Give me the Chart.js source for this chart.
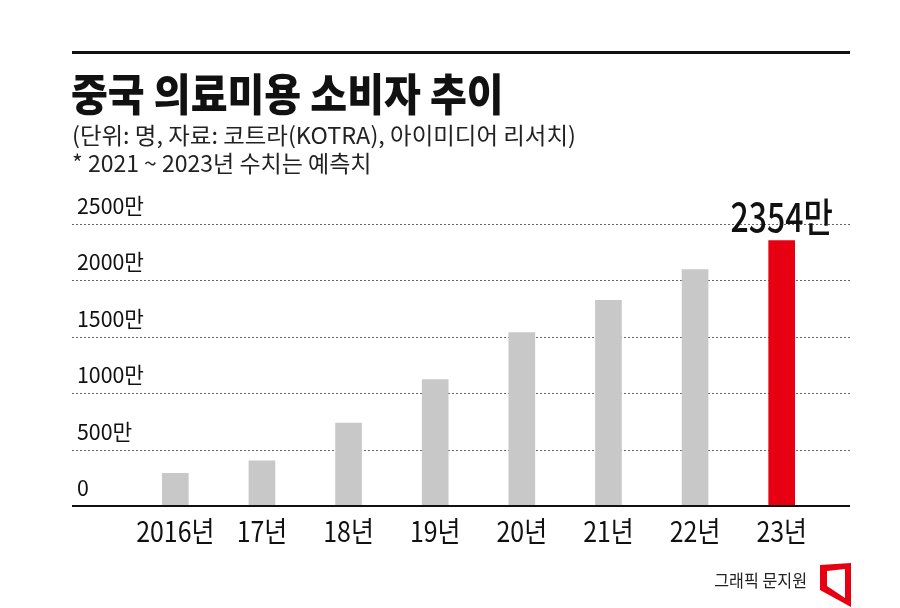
<!DOCTYPE html>
<html>
<head>
<meta charset="utf-8">
<script src="https://cdn.jsdelivr.net/npm/chart.js@4.4.1/dist/chart.umd.min.js"></script>
<style>
  html, body { margin: 0; padding: 0; background: #fff; }
  .wrap { width: 900px; height: 608px; position: relative; }
</style>
</head>
<body>
<div class="wrap"><canvas id="bar-chart"></canvas></div>
<script>
const years = ["2016년", "17년", "18년", "19년", "20년", "21년", "22년", "23년"];
const consumers = [290, 400, 735, 1120, 1537, 1823, 2095, 2354]; // 만 명
const yTicks = [0, 500, 1000, 1500, 2000, 2500];
const yTickLabels = ["0", "500만", "1000만", "1500만", "2000만", "2500만"];
const highlightLabel = "2354만";

const title = "중국 의료미용 소비자 추이";
const subtitle = "(단위: 명, 자료: 코트라(KOTRA), 아이미디어 리서치)";
const note = "* 2021 ~ 2023년 수치는 예측치";
const credit = "그래픽 문지원";

const FONT = '"Noto Sans CJK KR", "Noto Sans", sans-serif';

// draws narrow text, like the condensed face in the original
function squeezeText(ctx, text, x, y, sx, align) {
  ctx.save();
  ctx.translate(x, y);
  ctx.scale(sx, 1);
  ctx.textAlign = align || "left";
  ctx.fillText(text, 0, 0);
  ctx.restore();
}

const decor = {
  id: "decor",
  beforeDatasetsDraw(chart) {
    const ctx = chart.ctx;
    const y = chart.scales.y;
    ctx.save();
    ctx.strokeStyle = "#666";
    ctx.lineWidth = 1;
    ctx.setLineDash([2, 2]);
    yTicks.forEach((t) => {
      if (t === 0) return;
      const py = Math.round(y.getPixelForValue(t)) + 0.5;
      ctx.beginPath();
      ctx.moveTo(72, py);
      ctx.lineTo(850, py);
      ctx.stroke();
    });
    ctx.restore();
  },
  afterDraw(chart) {
    const ctx = chart.ctx;
    const x = chart.scales.x;
    const y = chart.scales.y;
    ctx.save();

    // top rule
    ctx.fillStyle = "#111";
    ctx.fillRect(72, 51, 778, 3);

    // titles
    ctx.fillStyle = "#111";
    ctx.textBaseline = "middle";
    ctx.font = "900 44px " + FONT;
    squeezeText(ctx, title, 71, 94, 0.91);
    ctx.fillStyle = "#222";
    ctx.font = "23px " + FONT;
    squeezeText(ctx, subtitle, 72, 135, 1.02);
    squeezeText(ctx, note, 72, 163, 1.0);

    // baseline
    const by = y.getPixelForValue(0);
    ctx.fillStyle = "#111";
    ctx.fillRect(72, by - 1, 778, 2);

    // y tick labels
    ctx.textBaseline = "alphabetic";
    ctx.font = "22px " + FONT;
    ctx.fillStyle = "#111";
    yTicks.forEach((t, i) => {
      squeezeText(ctx, yTickLabels[i], 77, y.getPixelForValue(t) - 10, 0.97);
    });

    // x labels
    ctx.textBaseline = "middle";
    ctx.font = "28px " + FONT;
    years.forEach((lab, i) => {
      squeezeText(ctx, lab, x.getPixelForValue(i), by + 25, 0.89, "center");
    });

    // value label on last bar
    const last = consumers.length - 1;
    ctx.textBaseline = "alphabetic";
    ctx.font = "500 40px " + FONT;
    squeezeText(ctx, highlightLabel, x.getPixelForValue(last), y.getPixelForValue(consumers[last]) - 8, 0.8, "center");

    // credit
    ctx.textBaseline = "middle";
    ctx.font = "17px " + FONT;
    ctx.fillStyle = "#222";
    squeezeText(ctx, credit, 807, 581, 0.95, "right");

    // logo
    ctx.fillStyle = "#e60012";
    ctx.beginPath();
    ctx.moveTo(820, 565); ctx.lineTo(851, 563); ctx.lineTo(851, 607); ctx.lineTo(820, 590); ctx.closePath();
    ctx.moveTo(827, 571); ctx.lineTo(827, 586); ctx.lineTo(845, 598); ctx.lineTo(845, 569); ctx.closePath();
    ctx.fill("evenodd");

    ctx.restore();
  }
};

const ctx = document.getElementById("bar-chart");
new Chart(ctx, {
  type: "bar",
  data: {
    labels: years,
    datasets: [
      {
        data: consumers,
        backgroundColor: consumers.map((v, i) => (i === consumers.length - 1 ? "#e60012" : "#c8c8c8")),
        borderWidth: 0,
        barThickness: 26,
      },
    ],
  },
  options: {
    responsive: true,
    maintainAspectRatio: false,
    animation: false,
    layout: { padding: { left: 132, right: 75, top: 224, bottom: 102 } },
    scales: {
      x: { display: false },
      y: { display: false, min: 0, max: 2500 },
    },
    plugins: { legend: { display: false }, tooltip: { enabled: false } },
  },
  plugins: [decor],
});
</script>
</body>
</html>
